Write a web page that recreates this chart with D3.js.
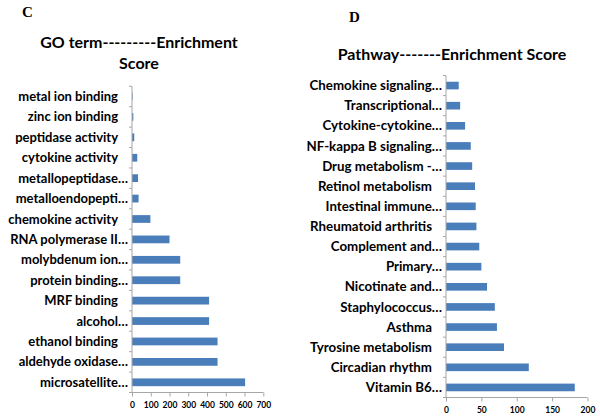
<!DOCTYPE html>
<html><head><meta charset="utf-8">
<script src="https://cdn.jsdelivr.net/npm/d3@7"></script>
<style>body{margin:0;background:#fff}svg{display:block}</style>
</head><body>
<svg id="c" width="600" height="416"></svg>
<script>
const goTerms = ["metal ion binding","zinc ion binding","peptidase activity","cytokine activity","metallopeptidase…","metalloendopepti…","chemokine activity","RNA polymerase II…","molybdenum ion…","protein binding…","MRF binding","alcohol…","ethanol binding","aldehyde oxidase…","microsatellite…"];
const goScores = [3,7,12,28,32,35,98,200,257,257,411,411,456,456,603];
const goTicks = [0,100,200,300,400,500,600,700];

const pathways = ["Chemokine signaling…","Transcriptional…","Cytokine-cytokine…","NF-kappa B signaling…","Drug metabolism -…","Retinol metabolism","Intestinal immune…","Rheumatoid arthritis","Complement and…","Primary…","Nicotinate and…","Staphylococcus…","Asthma","Tyrosine metabolism","Circadian rhythm","Vitamin B6…"];
const pathScores = [18,20,27,35,37,41,42,43,47,50,58,69,72,82,117,182];
const pathTicks = [0,50,100,150,200];

const svg = d3.select("#c");
const FONT = "Lato, 'Open Sans', sans-serif";
const BAR = "#4a7ebb", AX = "#a6a6a6";

function panel(o){
  const g = svg.append("g");
  const x = d3.scaleLinear().domain(o.dom).range(o.xr);
  const y = d3.scaleBand().domain(o.cats).range(o.yr).paddingInner(0.62).paddingOuter(0.31);
  g.selectAll("rect").data(o.cats).join("rect")
    .attr("x", x(0)).attr("y", d=>y(d))
    .attr("width", (d,i)=>x(o.vals[i])-x(0)).attr("height", y.bandwidth())
    .attr("fill", BAR);
  const x0 = x(0);
  g.append("line").attr("x1",x0).attr("x2",x0).attr("y1",o.yr[0]).attr("y2",o.yr[1]).attr("stroke",AX);
  const step = y.step();
  g.selectAll("line.bt").data(d3.range(o.cats.length+1)).join("line").attr("class","bt")
    .attr("x1",x0-3).attr("x2",x0).attr("y1",i=>o.yr[0]+i*step).attr("y2",i=>o.yr[0]+i*step).attr("stroke",AX);
  const ax = d3.axisBottom(x).tickValues(o.ticks).tickSize(4).tickPadding(5).tickFormat(d3.format("d"));
  const ag = g.append("g").attr("transform",`translate(0,${o.yr[1]})`).call(ax);
  ag.select(".domain").attr("stroke",AX).attr("d",`M${o.xr[0]},0H${o.xr[1]}`);
  ag.selectAll(".tick line").attr("stroke",AX);
  ag.selectAll("text").attr("font-family",FONT).attr("font-weight","bold").attr("font-size",8.5).attr("fill","#000");
  g.selectAll("text.cat").data(o.cats).join("text").attr("class","cat")
    .attr("x", d=> d.endsWith("…") ? x0-o.g1 : x0-o.g2)
    .attr("y", d=>y(d)+y.bandwidth()/2).attr("dy","0.35em")
    .attr("text-anchor","end").attr("font-family",FONT).attr("font-weight","bold")
    .attr("font-size",o.fs).attr("fill","#000").text(d=>d);
}

panel({cats:goTerms, vals:goScores, dom:[0,700], xr:[132,263.3], yr:[86.3,392.5], ticks:goTicks, g1:4, g2:14, fs:13});
panel({cats:pathways, vals:pathScores, dom:[0,200], xr:[446,587.5], yr:[75.5,397.5], ticks:pathTicks, g1:4, g2:14, fs:13.3});

function txt(x,y,s,fs,fam){
  svg.append("text").attr("x",x).attr("y",y).attr("text-anchor","middle")
    .attr("font-family",fam).attr("font-weight","bold").attr("font-size",fs).attr("fill","#000").text(s);
}
txt(139,48,"GO term---------Enrichment",16,FONT);
txt(139,69,"Score",16,FONT);
txt(452,60,"Pathway-------Enrichment Score",16,FONT);
txt(27.5,17,"C",15,"'Liberation Serif', 'DejaVu Serif', serif");
txt(354.5,22,"D",15,"'Liberation Serif', 'DejaVu Serif', serif");
</script>
</body></html>
